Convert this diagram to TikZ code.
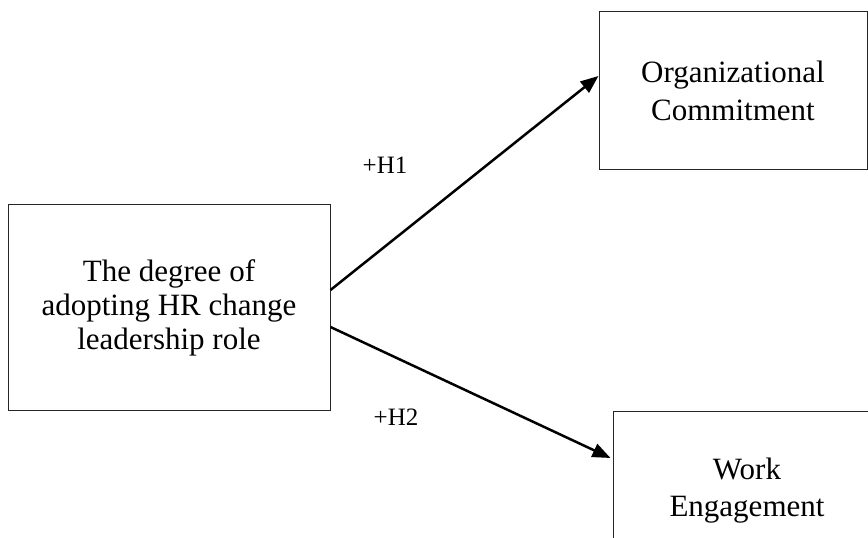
\documentclass[tikz,border=0pt]{standalone}
\usepackage{fontspec}
\setmainfont{Liberation Serif}
\usetikzlibrary{arrows.meta,calc}
\begin{document}
\begin{tikzpicture}[x=1pt,y=1pt,
  box/.style={draw=black!85,line width=1pt,inner sep=0pt,align=center},
  conn/.style={line width=2.5pt,-{Triangle[length=18pt,width=14pt]}},
  lbl/.style={font=\fontsize{25}{28}\selectfont}]
\useasboundingbox (0,0) rectangle (868,538);
\clip (0,0) rectangle (868,538);
\node[box,minimum width=322,minimum height=206,font=\fontsize{31}{34}\selectfont] (src) at (169,230)
  {The degree of\\adopting HR change\\leadership role};
\node[box,minimum width=268,minimum height=158,font=\fontsize{31}{38}\selectfont] (oc) at (733,447)
  {Organizational\\Commitment};
\node[box,minimum width=268,minimum height=158,font=\fontsize{31}{37}\selectfont] (we) at (747,47)
  {Work\\Engagement};
\draw[conn] ($(src.east)+(0,18)$) -- ($(oc.west)+(0,15)$);
\draw[conn] ($(src.east)+(0,-19)$) -- ($(we.west)+(-2,33)$);
\node[lbl] (h1) at (385,373) {+H1};
\node[lbl] (h2) at (396,121) {+H2};
\end{tikzpicture}
\end{document}
